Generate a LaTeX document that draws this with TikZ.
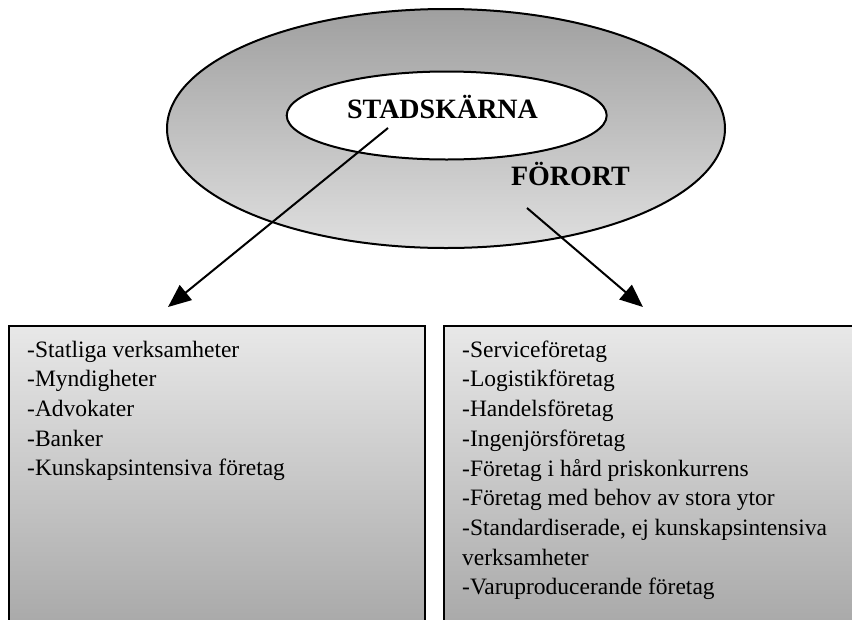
\documentclass[tikz,border=0pt]{standalone}
\usepackage{fontspec}
\setmainfont{Liberation Serif}
\usetikzlibrary{shapes.geometric,arrows.meta}
\tikzset{
  ring/.style={ellipse, draw=black, line width=2pt, top color=gray!75, bottom color=gray!25, inner sep=0pt},
  core/.style={ellipse, draw=black, line width=2pt, fill=white, inner sep=0pt},
  title/.style={font=\fontsize{28}{32}\selectfont\bfseries, inner sep=0pt, anchor=base},
  listbox/.style={draw=black, line width=2pt, top color=gray!18, bottom color=gray!70},
  listtext/.style={font=\fontsize{23.5}{29.7}\selectfont, align=left, inner sep=0pt, anchor=north west},
  bigarrow/.style={line width=2pt, -{Triangle[length=23pt,width=19pt]}}
}
\begin{document}
\begin{tikzpicture}[x=1pt,y=-1pt]
\clip (0,0) rectangle (852,619);
\fill[white] (0,0) rectangle (852,619);
% boxes
\draw[listbox] (9,326) rectangle (425,640);
\draw[listbox] (444,326) rectangle (870,640);
% ellipses
\node[ring, minimum width=558pt, minimum height=239pt] (outer) at (446,128.5) {};
\node[core, minimum width=320pt, minimum height=88pt] (inner) at (446.7,115.5) {};
\node[title] (stad) at (442.5,118) {STADSKÄRNA};
\node[title] (forort) at (570.5,185) {FÖRORT};
% arrows
\coordinate (s1) at (388,128);
\coordinate (t1) at (168,307);
\coordinate (s2) at (527,208);
\coordinate (t2) at (643,307);
\draw[bigarrow] (s1) -- (t1);
\draw[bigarrow] (s2) -- (t2);
% lists
\node[listtext] (leftlist) at (27,340.5) {-Statliga verksamheter\\-Myndigheter\\-Advokater\\-Banker\\-Kunskapsintensiva företag};
\node[listtext] (rightlist) at (462,340.5) {-Serviceföretag\\-Logistikföretag\\-Handelsföretag\\-Ingenjörsföretag\\-Företag i hård priskonkurrens\\-Företag med behov av stora ytor\\-Standardiserade, ej kunskapsintensiva\\verksamheter\\-Varuproducerande företag};
\end{tikzpicture}
\end{document}
